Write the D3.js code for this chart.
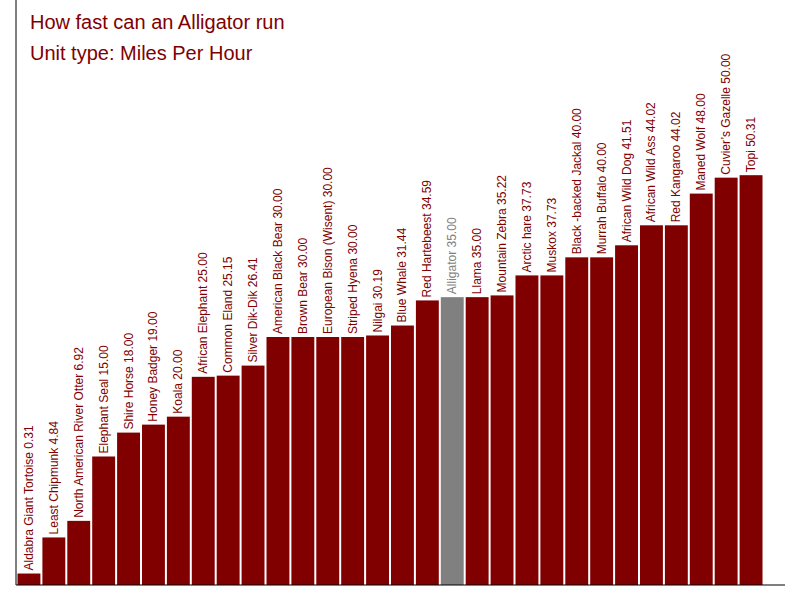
<!doctype html>
<html>
<head>
<meta charset="utf-8">
<script src="https://d3js.org/d3.v7.min.js"></script>
<style>
  body { margin: 0; background: #fff; }
  text { font-family: "Liberation Sans", Arial, sans-serif; }
</style>
</head>
<body>
<script>
var names = ["Aldabra Giant Tortoise", "Least Chipmunk", "North American River Otter", "Elephant Seal",
  "Shire Horse", "Honey Badger", "Koala", "African Elephant", "Common Eland", "Silver Dik-Dik",
  "American Black Bear", "Brown Bear", "European Bison (Wisent)", "Striped Hyena", "Nilgai",
  "Blue Whale", "Red Hartebeest", "Alligator", "Llama", "Mountain Zebra", "Arctic hare", "Muskox",
  "Black -backed Jackal", "Murrah Buffalo", "African Wild Dog", "African Wild Ass", "Red Kangaroo",
  "Maned Wolf", "Cuvier\u2019s Gazelle", "Topi"];
var speeds = [0.31, 4.84, 6.92, 15.00, 18.00, 19.00, 20.00, 25.00, 25.15, 26.41,
  30.00, 30.00, 30.00, 30.00, 30.19, 31.44, 34.59, 35.00, 35.00, 35.22, 37.73, 37.73,
  40.00, 40.00, 41.51, 44.02, 44.02, 48.00, 50.00, 50.31];
var highlight = "Alligator";

var svg = d3.select("body").append("svg").attr("width", 800).attr("height", 600);

var x = d3.scaleBand().domain(names).range([17, 763]).paddingInner(0.08).paddingOuter(0.02);
var y = d3.scaleLinear().domain([-1.13, 72.3]).range([585, 0]);

svg.selectAll("rect.bar").data(names).enter().append("rect")
  .attr("x", d => x(d))
  .attr("width", x.bandwidth())
  .attr("y", (d, i) => y(speeds[i]))
  .attr("height", (d, i) => 585 - y(speeds[i]))
  .attr("fill", d => d == highlight ? "#808080" : "#800000");

svg.selectAll("text.lbl").data(names).enter().append("text")
  .attr("transform", (d, i) => "translate(" + (x(d) + x.bandwidth() / 2 + 4) + "," + (y(speeds[i]) - 3) + ") rotate(-90)")
  .attr("font-size", 12)
  .attr("fill", d => d == highlight ? "#808080" : "#800000")
  .text((d, i) => d + " " + speeds[i].toFixed(2));

// axes lines
svg.append("line").attr("x1", 16).attr("x2", 16).attr("y1", 0).attr("y2", 585).attr("stroke", "#000");
svg.append("line").attr("x1", 16).attr("x2", 785).attr("y1", 585).attr("y2", 585).attr("stroke", "#000");

svg.append("text").attr("x", 30).attr("y", 29).attr("font-size", 20).attr("fill", "#800000")
  .text("How fast can an Alligator run");
svg.append("text").attr("x", 30).attr("y", 60).attr("font-size", 20).attr("fill", "#800000")
  .text("Unit type: Miles Per Hour");
</script>
</body>
</html>
